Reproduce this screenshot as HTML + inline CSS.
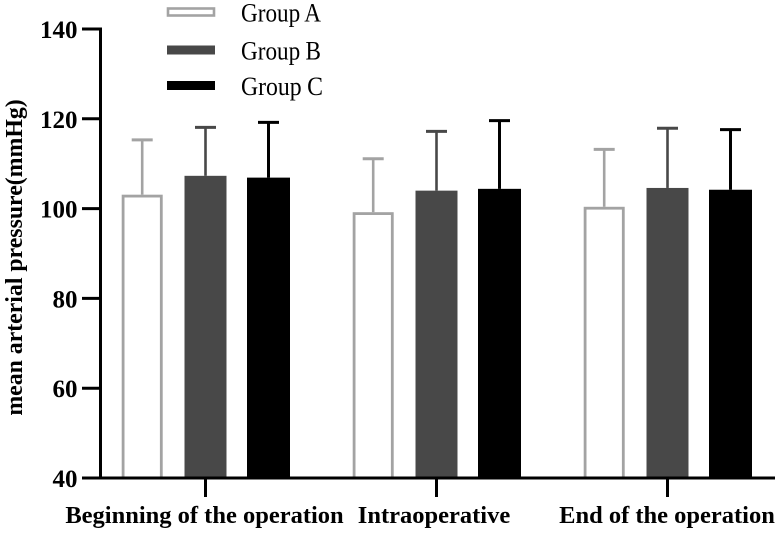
<!DOCTYPE html>
<html>
<head>
<meta charset="utf-8">
<style>
html,body{margin:0;padding:0;background:#fff;width:780px;height:533px;overflow:hidden}
svg{display:block}
text{font-family:"Liberation Serif",serif;fill:#000}
</style>
</head>
<body>
<svg id="chart" width="780" height="533" viewBox="0 0 780 533"></svg>
<script>
const categories = ["Beginning of the operation", "Intraoperative", "End of the operation"];
const seriesNames = ["Group A", "Group B", "Group C"];
const groupA = [103.1, 99.2, 100.4];
const groupB = [107.3, 104, 104.6];
const groupC = [106.9, 104.4, 104.2];
const errorA = [12.2, 11.9, 12.8];
const errorB = [10.8, 13.2, 13.3];
const errorC = [12.3, 15.2, 13.4];
const yTicks = [40, 60, 80, 100, 120, 140];

const NS = "http://www.w3.org/2000/svg";
const svg = document.getElementById("chart");
const y = v => 478 + (v - 40) * (29 - 478) / 100;
const groupX = i => 205.5 + i * 231;
const barX = (i, s) => groupX(i) + (s - 1) * 63;
const values = [groupA, groupB, groupC];
const errors = [errorA, errorB, errorC];
const strokes = ["#a3a3a3", "#484848", "#000000"];
const fills = ["#ffffff", "#484848", "#000000"];

function make(tag, attrs, text) {
  const el = document.createElementNS(NS, tag);
  for (const k in attrs) el.setAttribute(k, attrs[k]);
  if (text !== undefined) el.textContent = text;
  svg.appendChild(el);
  return el;
}

/* bars and error bars */
values.forEach((vals, s) => {
  vals.forEach((v, i) => {
    const cx = barX(i, s) - (s === 0 ? 0.3 : 0);
    const top = y(v + errors[s][i]);
    const stem = make("line", {x1: cx, x2: cx, y1: top, y2: y(v), stroke: strokes[s], "stroke-width": s === 2 ? 3 : 2.6});
    
    
    const cap = make("line", {x1: cx - 10.5, x2: cx + 10.5, y1: top, y2: top, stroke: strokes[s], "stroke-width": 3});
    
    
    const inset = s === 0 ? 1.4 : 0;
    const halfW = (s === 0 ? 20.5 : s === 1 ? 21 : 21.5) - inset;
    const bar = make("rect", {x: cx - halfW, y: y(v) + inset, width: halfW * 2, height: 478 - y(v) - inset, fill: fills[s], stroke: s === 0 ? strokes[s] : "none", "stroke-width": s === 0 ? 2.8 : 0});
    
    
  });
});

/* y axis */
const yAxis = make("line", {x1: 100.5, x2: 100.5, y1: 27.5, y2: 479.5, stroke: "#000", "stroke-width": 3});


yTicks.forEach(t => {
  const tick = make("line", {x1: 82, x2: 100.5, y1: y(t), y2: y(t), stroke: "#000", "stroke-width": 3});
  
  
  const label = make("text", {x: 77.5, y: y(t) + 9, "text-anchor": "end", "font-size": 25, "font-weight": "bold"}, t);
  
  
});

/* x axis */
const xAxis = make("line", {x1: 82, x2: 775, y1: 478, y2: 478, stroke: "#000", "stroke-width": 3});


const xLabelX = [204.5, 434, 667];
categories.forEach((c, i) => {
  const tick = make("line", {x1: groupX(i), x2: groupX(i), y1: 478, y2: 497, stroke: "#000", "stroke-width": 3});
  
  
  const label = make("text", {x: xLabelX[i], y: 523, "text-anchor": "middle", "font-size": 24.5, "font-weight": "bold"}, c);
  
  
});

/* y axis title */
const title = make("text", {x: 0, y: 0, transform: "translate(22,257.5) rotate(-90)", "text-anchor": "middle", "font-size": 23.8, "font-weight": "bold"}, "mean arterial pressure(mmHg)");



/* legend */
const legendY = [12, 50, 85.5];
seriesNames.forEach((n, s) => {
  const swatch = make("rect", {x: s === 0 ? 168 : 167, y: legendY[s] - (s === 0 ? 3.5 : 4.5), width: s === 0 ? 46 : 48, height: s === 0 ? 7 : 9, fill: fills[s], stroke: s === 0 ? strokes[s] : "none", "stroke-width": s === 0 ? 2.6 : 0});
  
  
  const label = make("text", {x: 241, y: legendY[s] + 9.5, "font-size": 26, "word-spacing": -0.5, textLength: s === 2 ? 82 : 80, lengthAdjust: "spacingAndGlyphs"}, n);
  
  
});
</script>
</body>
</html>
